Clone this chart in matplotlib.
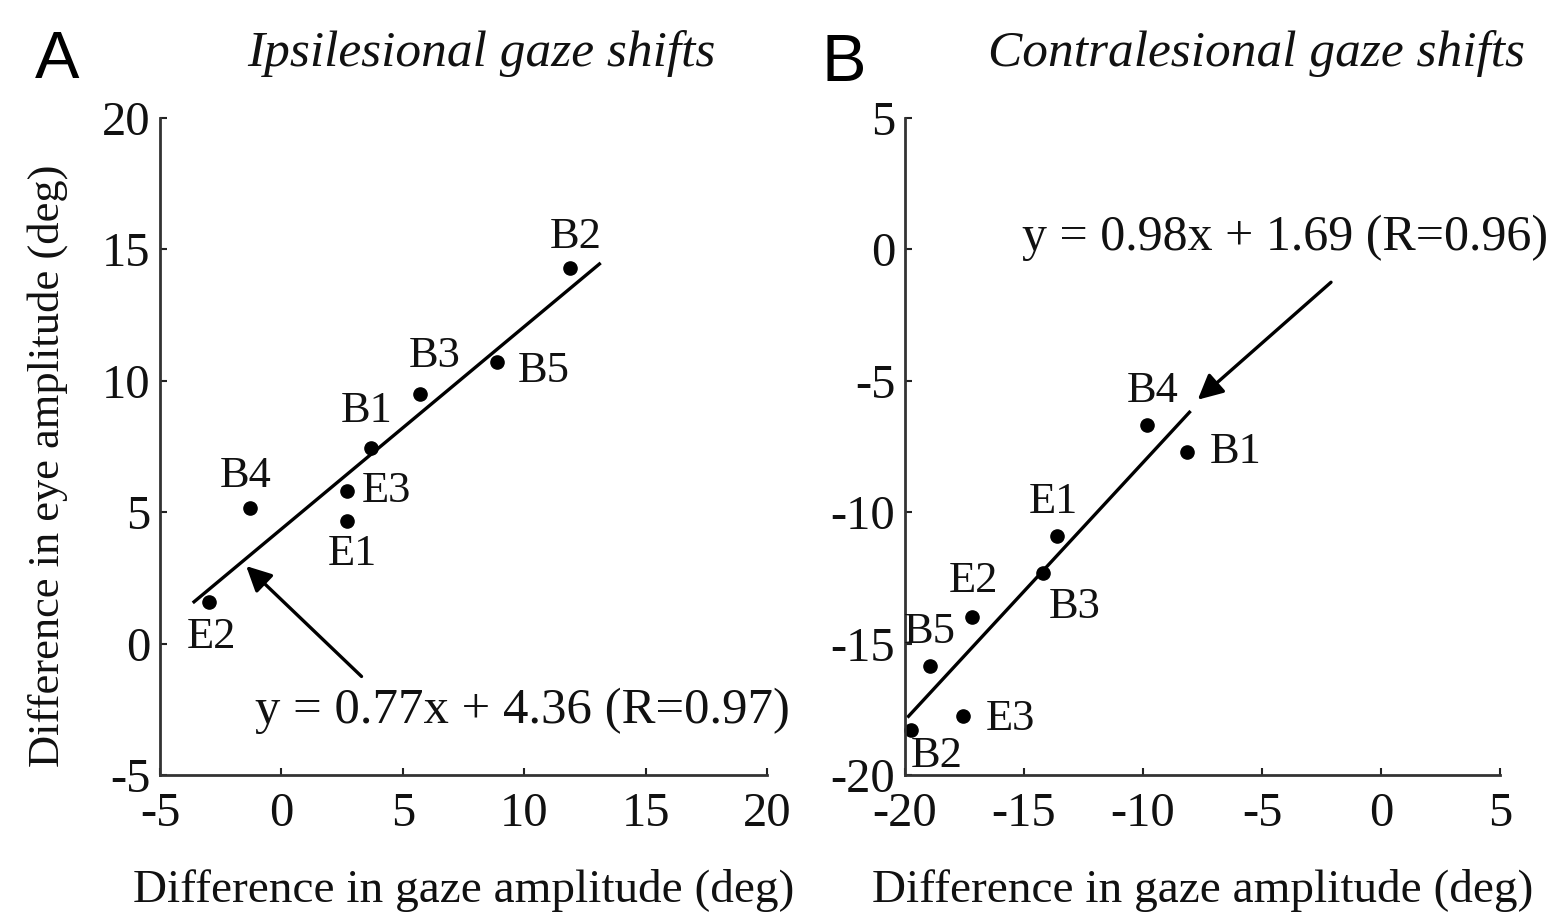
import matplotlib
matplotlib.use("Agg")
import matplotlib.pyplot as plt
import numpy as np

plt.rcParams['font.family'] = ['Liberation Serif', 'DejaVu Serif']
plt.rcParams['axes.unicode_minus'] = False

# ---- data ----
labels_a = ["B2", "B5", "B3", "B1", "E3", "E1", "B4", "E2"]
gaze_a = [11.9, 8.9, 5.7, 3.7, 2.7, 2.7, -1.3, -3.0]
eye_a = [14.3, 10.7, 9.5, 7.45, 5.8, 4.65, 5.15, 1.6]
fit_a = (0.77, 4.36)
fit_range_a = [-3.65, 13.15]

labels_b = ["B4", "B1", "E1", "B3", "E2", "B5", "E3", "B2"]
gaze_b = [-9.85, -8.15, -13.6, -14.2, -17.2, -18.95, -17.55, -19.75]
eye_b = [-6.7, -7.72, -10.9, -12.3, -14.0, -15.85, -17.75, -18.3]
fit_b = (0.98, 1.69)
fit_range_b = [-19.9, -8.0]

xticks_a = [-5, 0, 5, 10, 15, 20]
yticks_a = [-5, 0, 5, 10, 15, 20]
xticks_b = [-20, -15, -10, -5, 0, 5]
yticks_b = [-20, -15, -10, -5, 0, 5]

# label offsets in pixels (dx, dy) and alignment
offs_a = {"B2": (5, 31, 'center'), "B5": (20, -9, 'left'), "B3": (15, 38, 'center'),
          "B1": (-5, 37, 'center'), "E3": (15, 0, 'left'), "E1": (5, -33, 'center'),
          "B4": (-4, 32, 'center'), "E2": (3, -35, 'center')}
offs_b = {"B4": (6, 34, 'center'), "B1": (23, 0, 'left'), "E1": (-4, 34, 'center'),
          "B3": (32, -34, 'center'), "E2": (2, 36, 'center'), "B5": (0, 34, 'center'),
          "E3": (22, -3, 'left'), "B2": (26, -26, 'center')}

W, H = 1561, 921
fig = plt.figure(figsize=(W / 100, H / 100), dpi=100)

FS = 35
LFS = 32


def setup(ax, xt, yt):
    ax.set_xlim(xt[0], xt[-1])
    ax.set_ylim(yt[0], yt[-1])
    ax.set_xticks(xt)
    ax.set_yticks(yt)
    for s in ['top', 'right']:
        ax.spines[s].set_visible(False)
    for s in ['left', 'bottom']:
        ax.spines[s].set_linewidth(2.0)
        ax.spines[s].set_color('#333333')
    ax.tick_params(direction='in', length=5, width=1.5, labelsize=FS, colors='#222222')
    ax.tick_params(axis='x', pad=12)
    ax.tick_params(axis='y', pad=7)
    for lab in ax.get_xticklabels() + ax.get_yticklabels():
        lab.set_color('#111111')


def draw(ax, labels, gx, ey, fit, rng, offs):
    ax.plot(gx, ey, 'o', color='black', markersize=9.5, clip_on=False)
    xs = np.array(rng)
    ax.plot(xs, fit[0] * xs + fit[1], '-', color='black', lw=2.4, solid_capstyle='butt')
    for lab, x, y in zip(labels, gx, ey):
        dx, dy, ha = offs[lab]
        ax.annotate(lab, (x, y), xytext=(dx, dy), textcoords='offset pixels',
                    ha=ha, va='center', fontsize=LFS, color='#111111')


axA = fig.add_axes([160 / W, 1 - 775 / H, (767 - 160) / W, (775 - 118) / H])
setup(axA, xticks_a, yticks_a)
draw(axA, labels_a, gaze_a, eye_a, fit_a, fit_range_a, offs_a)
axA.annotate('', xy=(-1.45, 2.95), xytext=(3.3, -1.25),
             arrowprops=dict(arrowstyle='-|>', lw=2.4, color='black', mutation_scale=38,
                             shrinkA=0, shrinkB=0))
axA.text(-1.1, -2.55, "y = 0.77x + 4.36 (R=0.97)", ha='left', va='center',
         fontsize=36.5, color='#111111', clip_on=False)
axA.set_xlabel("Difference in gaze amplitude (deg)", fontsize=34, labelpad=24, color='#111111')
axA.set_ylabel("Difference in eye amplitude (deg)", fontsize=32, color='#111111')
axA.yaxis.set_label_coords(-0.152, 0.47)

axB = fig.add_axes([905 / W, 1 - 775 / H, (1500 - 905) / W, (775 - 118) / H])
setup(axB, xticks_b, yticks_b)
draw(axB, labels_b, gaze_b, eye_b, fit_b, fit_range_b, offs_b)
axB.annotate('', xy=(-7.7, -5.72), xytext=(-2.1, -1.25),
             arrowprops=dict(arrowstyle='-|>', lw=2.4, color='black', mutation_scale=38,
                             shrinkA=0, shrinkB=0))
axB.text(-15.1, 0.45, "y = 0.98x + 1.69 (R=0.96)", ha='left', va='center',
         fontsize=36, color='#111111', clip_on=False)
axB.set_xlabel("Difference in gaze amplitude (deg)", fontsize=34, labelpad=24, color='#111111')

fig.text(481 / W, 1 - 54 / H, "Ipsilesional gaze shifts", ha='center', va='center',
         fontsize=37, style='italic', color='#111111')
fig.text(1256 / W, 1 - 54 / H, "Contralesional gaze shifts", ha='center', va='center',
         fontsize=37, style='italic', color='#111111')
fig.text(57 / W, 1 - 61 / H, "A", ha='center', va='center', fontsize=48,
         family=['Liberation Sans', 'DejaVu Sans'])
fig.text(844 / W, 1 - 64 / H, "B", ha='center', va='center', fontsize=48,
         family=['Liberation Sans', 'DejaVu Sans'])

fig.savefig("out.png", dpi=100, facecolor='white')
